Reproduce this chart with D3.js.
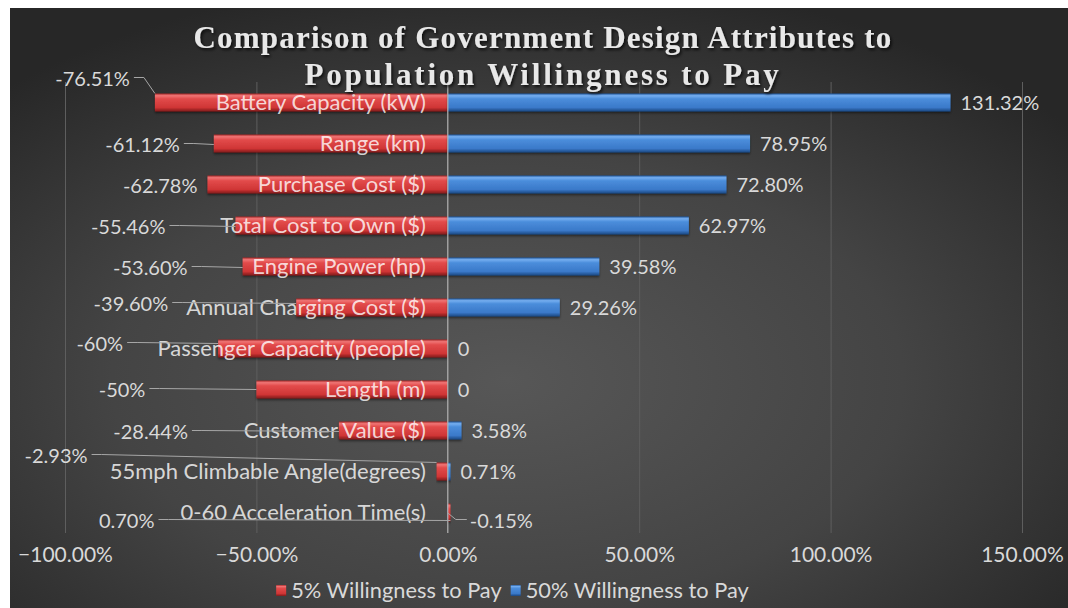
<!DOCTYPE html>
<html>
<head>
<meta charset="utf-8">
<script src="https://cdn.jsdelivr.net/npm/d3@7"></script>
<style>
  html, body { margin: 0; padding: 0; background: #ffffff; }
  svg { display: block; }
</style>
</head>
<body>
<svg id="chart" width="1068" height="608"></svg>
<script>
// Attributes, top to bottom
const categories = [
  "Battery Capacity (kW)",
  "Range (km)",
  "Purchase Cost ($)",
  "Total Cost to Own ($)",
  "Engine Power (hp)",
  "Annual Charging Cost ($)",
  "Passenger Capacity (people)",
  "Length (m)",
  "Customer Value ($)",
  "55mph Climbable Angle(degrees)",
  "0-60 Acceleration Time(s)"
];

// Percent change at 5% willingness to pay
const wtp5 = [-76.51, -61.12, -62.78, -55.46, -53.60, -39.60, -60, -50, -28.44, -2.93, 0.70];
// Percent change at 50% willingness to pay
const wtp50 = [131.32, 78.95, 72.80, 62.97, 39.58, 29.26, 0, 0, 3.58, 0.71, -0.15];

// Label text as printed on the chart
const wtp5Text = ["-76.51%", "-61.12%", "-62.78%", "-55.46%", "-53.60%", "-39.60%", "-60%", "-50%", "-28.44%", "-2.93%", "0.70%"];
const wtp50Text = ["131.32%", "78.95%", "72.80%", "62.97%", "39.58%", "29.26%", "0", "0", "3.58%", "0.71%", "-0.15%"];

const xTicks = [-100, -50, 0, 50, 100, 150];
const seriesNames = ["5% Willingness to Pay", "50% Willingness to Pay"];
const titleLines = ["Comparison of Government Design Attributes to", "Population Willingness to Pay"];

// ---- layout ----
const W = 1068, H = 608;
const frame = { x: 10, y: 8 };
const plot = { left: 65, right: 1022, top: 82, bottom: 533 };
const labelFont = "Lato, 'Open Sans', sans-serif";
const textColor = "#d9d9d9";

// hand-placed red labels: offset of the label's right edge from the bar end, and from the row centre
const redLabelShift = [
  [-25, -24], [-34, 1], [-10, 1], [-70, 1], [-55, 1], [-128, -4],
  [-95, -5], [-111, 0], [-151, 1], [-349, -16], [-296, 8]
];
const redLeader = [true, true, false, true, true, true, true, true, true, true, true];

const svg = d3.select("#chart");
const defs = svg.append("defs");

// background
const bg = defs.append("radialGradient").attr("id", "bgGrad")
  .attr("cx", "47%").attr("cy", "62%").attr("r", "68%");
bg.append("stop").attr("offset", "0%").attr("stop-color", "#575757");
bg.append("stop").attr("offset", "55%").attr("stop-color", "#444444");
bg.append("stop").attr("offset", "100%").attr("stop-color", "#272727");

function barGradient(id, stops) {
  const g = defs.append("linearGradient").attr("id", id)
    .attr("x1", 0).attr("y1", 0).attr("x2", 0).attr("y2", 1);
  stops.forEach(([o, c]) => g.append("stop").attr("offset", o).attr("stop-color", c));
}
barGradient("redGrad", [["0%", "#a52a2a"], ["12%", "#f07474"], ["30%", "#e24a4a"], ["78%", "#cf3535"], ["100%", "#7e1b1b"]]);
barGradient("blueGrad", [["0%", "#24589c"], ["12%", "#74aef0"], ["30%", "#4b8ddb"], ["78%", "#3a79c9"], ["100%", "#1a4680"]]);

const shadow = defs.append("filter").attr("id", "titleShadow")
  .attr("x", "-5%").attr("y", "-20%").attr("width", "110%").attr("height", "150%");
shadow.append("feDropShadow").attr("dx", 1.5).attr("dy", 2).attr("stdDeviation", 1.5)
  .attr("flood-color", "#000").attr("flood-opacity", 0.75);

const barShadow = defs.append("filter").attr("id", "barShadow")
  .attr("x", "-5%").attr("y", "-30%").attr("width", "110%").attr("height", "170%");
barShadow.append("feDropShadow").attr("dx", 0).attr("dy", 1.5).attr("stdDeviation", 1)
  .attr("flood-color", "#000").attr("flood-opacity", 0.5);

svg.append("rect").attr("x", frame.x).attr("y", frame.y)
  .attr("width", W - frame.x).attr("height", H - frame.y).attr("fill", "url(#bgGrad)");

// ---- scales ----
const x = d3.scaleLinear().domain([-100, 150]).range([plot.left, plot.right]);
const y = d3.scaleBand().domain(categories).range([plot.top, plot.bottom]).paddingInner(0.56).paddingOuter(0.28);
const mid = c => y(c) + y.bandwidth() / 2;

// gridlines
const grid = d3.axisBottom(x).tickValues(xTicks.filter(t => t !== 0))
  .tickSize(-(plot.bottom - plot.top)).tickFormat("");
svg.append("g").attr("transform", `translate(0,${plot.bottom})`).call(grid)
  .call(g => g.select(".domain").remove())
  .call(g => g.selectAll("line").attr("stroke", "#5e5e5e").attr("stroke-width", 1));

// tick labels
const axis = d3.axisBottom(x).tickValues(xTicks).tickSize(0).tickPadding(0)
  .tickFormat(d => d3.format(".2f")(d) + "%");
svg.append("g").attr("transform", `translate(0,${plot.bottom + 29})`).call(axis)
  .call(g => g.select(".domain").remove())
  .call(g => g.selectAll("text").attr("fill", textColor).attr("font-family", labelFont)
    .attr("font-size", 21).attr("dy", "0"));

// ---- bars ----
const rows = categories.map((c, i) => ({ c, i, a: wtp5[i], b: wtp50[i] }));

function drawBars(key, fill) {
  svg.append("g").selectAll("rect").data(rows).join("rect")
    .attr("x", d => x(Math.min(0, d[key])))
    .attr("y", d => y(d.c))
    .attr("width", d => Math.abs(x(d[key]) - x(0)))
    .attr("height", y.bandwidth())
    .attr("fill", fill)
    .attr("filter", "url(#barShadow)");
}
drawBars("a", "url(#redGrad)");
drawBars("b", "url(#blueGrad)");

// zero line
svg.append("line").attr("x1", x(0)).attr("x2", x(0))
  .attr("y1", plot.top).attr("y2", plot.bottom)
  .attr("stroke", "#b4b4b4").attr("stroke-width", 1.2);

// category names, right aligned just left of zero
svg.append("g").selectAll("text").data(rows).join("text")
  .attr("x", x(0) - 22)
  .attr("y", d => mid(d.c))
  .attr("dy", "0.36em")
  .attr("text-anchor", "end")
  .attr("font-family", labelFont).attr("font-size", 22)
  .attr("fill", "#ffffff").attr("fill-opacity", 0.8)
  .text(d => d.c);

// red value labels with leader lines
const leaderColor = "#a6a6a6";
rows.forEach(d => {
  const [dx, dy] = redLabelShift[d.i];
  const end = x(d.a);
  const lx = end + dx, ly = mid(d.c) + dy;
  if (redLeader[d.i]) {
    const top = y(d.c), bot = y(d.c) + y.bandwidth();
    const ty = Math.max(top, Math.min(bot, ly));
    const pts = [[lx + 4, ly - 1], [lx + 14, ly - 1], [end, ty]];
    svg.append("path").attr("d", d3.line()(pts))
      .attr("fill", "none").attr("stroke", leaderColor).attr("stroke-width", 1);
  }
  svg.append("text").attr("x", lx).attr("y", ly).attr("dy", "0.36em")
    .attr("text-anchor", "end").attr("font-family", labelFont).attr("font-size", 20)
    .attr("fill", textColor).text(wtp5Text[d.i]);
});

// blue value labels
rows.forEach(d => {
  const end = x(d.b);
  let lx = Math.max(end, x(0)) + 10, ly = mid(d.c);
  if (d.b < 0) {
    lx = x(0) + 22; ly = mid(d.c) + 8;
    svg.append("path").attr("d", d3.line()([[end, mid(d.c)], [x(0) + 8, ly - 1], [lx - 3, ly - 1]]))
      .attr("fill", "none").attr("stroke", leaderColor).attr("stroke-width", 1);
  }
  svg.append("text").attr("x", lx).attr("y", ly).attr("dy", "0.36em")
    .attr("font-family", labelFont).attr("font-size", 20)
    .attr("fill", textColor).text(wtp50Text[d.i]);
});

// ---- title ----
const titleSpacing = [1.2, 2.8];
svg.append("g").attr("filter", "url(#titleShadow)").selectAll("text").data(titleLines).join("text")
  .attr("x", 543).attr("y", (d, i) => 48 + i * 37)
  .attr("text-anchor", "middle")
  .attr("font-family", "'Liberation Serif', 'DejaVu Serif', serif")
  .attr("font-weight", "bold").attr("font-size", 31)
  .attr("letter-spacing", (d, i) => titleSpacing[i])
  .attr("fill", "#e8e8e8")
  .text(d => d);

// ---- legend, centred under the plot ----
const legend = svg.append("g").attr("transform", "translate(0,590)");
const swatch = ["url(#redGrad)", "url(#blueGrad)"];
const items = seriesNames.map((n, i) => {
  const g = legend.append("g");
  g.append("rect").attr("x", 0).attr("y", -5).attr("width", 10).attr("height", 11).attr("fill", swatch[i]);
  const t = g.append("text").attr("x", 15).attr("y", 0).attr("dy", "0.36em")
    .attr("font-family", labelFont).attr("font-size", 21.8).attr("fill", textColor).text(n);
  return { g, w: 15 + t.node().getComputedTextLength() };
});
const gap = 9;
const total = d3.sum(items, d => d.w) + gap;
let cursor = 512.5 - total / 2;
items.forEach(it => {
  it.g.attr("transform", `translate(${cursor},0)`);
  cursor += it.w + gap;
});
</script>
</body>
</html>
